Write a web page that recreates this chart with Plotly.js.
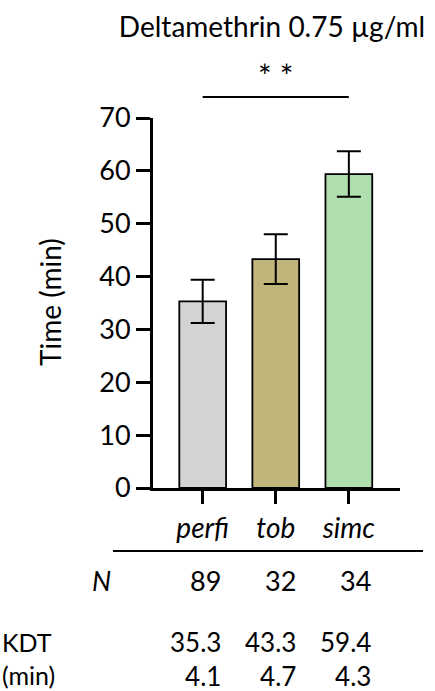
<!DOCTYPE html>
<html>
<head>
<meta charset="utf-8">
<script src="https://cdn.plot.ly/plotly-3.0.1.min.js"></script>
<style>html,body{margin:0;padding:0;background:#fff;}#chart{width:435px;height:691px;}</style>
</head>
<body>
<div id="chart"></div>
<script>
const categories = ["perfi", "tob", "simc"];
const meanKDT = [35.3, 43.3, 59.4];
const seKDT = [4.1, 4.7, 4.3];
const nFlies = [89, 32, 34];
const barColors = ["#d3d3d3", "#c0b57b", "#afdfae"];
const yTicks = [0, 10, 20, 30, 40, 50, 60, 70];

const FONT = "Lato, 'Noto Sans', sans-serif";
const FS = 27;
const FT = 25; // two-line table rows

const trace = {
  type: "bar",
  x: [0, 1, 2],
  y: meanKDT,
  width: 0.64,
  marker: {color: barColors, line: {color: "#000", width: 1.8}},
  error_y: {type: "data", array: seKDT, visible: true, color: "#000", thickness: 2, width: 12},
  hoverinfo: "none",
  showlegend: false
};

const py = (px) => (488 - px) / 370;
const px = (p) => (p - 153) / 247;

const annotations = [];
// y-axis title
annotations.push({xref: "paper", yref: "paper", x: px(50), y: py(302), text: "Time (min)", textangle: -90,
  showarrow: false, font: {family: FONT, size: FS + 1, color: "#000"}, xanchor: "center", yanchor: "middle"});
// significance
annotations.push({xref: "x", yref: "paper", x: 1, y: py(75), text: "* *", showarrow: false,
  font: {family: FONT, size: 32, color: "#000"}, xanchor: "center", yanchor: "middle"});
// table row labels
annotations.push({xref: "paper", yref: "paper", x: px(101), y: py(580), text: "<i>N</i>", showarrow: false,
  font: {family: FONT, size: FS, color: "#000"}, xanchor: "center", yanchor: "middle"});
annotations.push({xref: "paper", yref: "paper", x: px(0), y: py(658), text: "KDT<br>(min)", showarrow: false,
  align: "left", font: {family: FONT, size: FT, color: "#000"}, xanchor: "left", yanchor: "middle"});
categories.forEach((c, i) => {
  annotations.push({xref: "x", yref: "paper", x: i, xshift: 3 + 2 * i, y: py(580), text: String(nFlies[i]),
    showarrow: false, font: {family: FONT, size: FS, color: "#000"}, xanchor: "center", yanchor: "middle"});
  annotations.push({xref: "x", yref: "paper", x: i, xshift: 20 + 2 * i, y: py(659),
    text: meanKDT[i].toFixed(1) + "<br>" + seKDT[i].toFixed(1), align: "right",
    showarrow: false, font: {family: FONT, size: FT + 1, color: "#000"}, xanchor: "right", yanchor: "middle"});
});

const layout = {
  width: 435, height: 691,
  margin: {l: 153, r: 35, t: 118, b: 203},
  paper_bgcolor: "#fff", plot_bgcolor: "#fff",
  font: {family: FONT, size: FS, color: "#000"},
  title: {text: "Deltamethrin 0.75 µg/ml", x: 272 / 435, xanchor: "center", xref: "container",
    y: 1 - 27 / 691, yanchor: "middle", yref: "container",
    font: {family: FONT, size: 28, color: "#000"}},
  xaxis: {
    range: [-0.68, 2.70], tickmode: "array", tickvals: [0, 1, 2], ticktext: categories,
    showline: true, linewidth: 3, linecolor: "#000", ticks: "outside", ticklen: 13, tickwidth: 3, tickcolor: "#000",
    tickfont: {family: FONT, size: FS + 1, color: "#000", style: "italic"},
    showgrid: false, zeroline: false, fixedrange: true
  },
  yaxis: {
    range: [0, 70], tickmode: "array", tickvals: yTicks,
    showline: true, linewidth: 3, linecolor: "#000", ticks: "outside", ticklen: 14, tickwidth: 3, tickcolor: "#000",
    tickfont: {family: FONT, size: FS, color: "#000"},
    showgrid: false, zeroline: false, fixedrange: true
  },
  shapes: [
    {type: "line", xref: "x", yref: "paper", x0: 0, x1: 2, y0: py(97), y1: py(97),
      line: {color: "#000", width: 2}},
    {type: "line", xref: "paper", yref: "paper", x0: px(113), x1: px(423), y0: py(551), y1: py(551),
      line: {color: "#000", width: 2}}
  ],
  annotations: annotations
};

Plotly.newPlot("chart", [trace], layout, {displayModeBar: false, staticPlot: true});
</script>
</body>
</html>
